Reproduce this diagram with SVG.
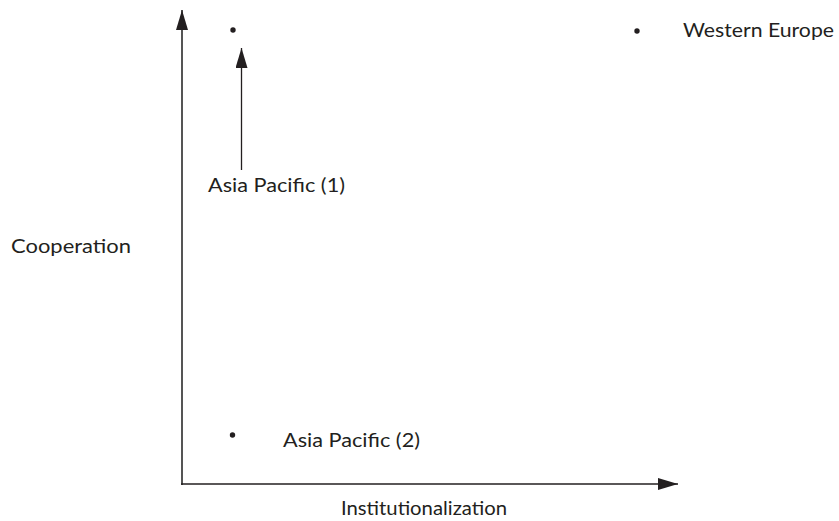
<svg xmlns="http://www.w3.org/2000/svg" width="839" height="521" viewBox="0 0 839 521">
<style>
text{font-family:"Lato","Open Sans","Liberation Sans",sans-serif;font-size:19.5px;fill:#231f20}
.dot{fill:#231f20}
</style>
<defs>
<marker id="ahBig" viewBox="0 0 20 12" refX="20" refY="6" markerWidth="20" markerHeight="12" markerUnits="userSpaceOnUse" orient="auto">
<path d="M0,0 L20,6 L0,12 Z" fill="#231f20"/>
</marker>
</defs>
<rect width="839" height="521" fill="#fff"/>
<g id="connectors">
<line x1="182" y1="485" x2="182" y2="10" stroke="#555" stroke-width="2" marker-end="url(#ahBig)"/>
<line x1="181" y1="484" x2="678" y2="484" stroke="#231f20" stroke-width="1.3" marker-end="url(#ahBig)"/>
<line x1="241.5" y1="170" x2="241.5" y2="48" stroke="#231f20" stroke-width="1.3" marker-end="url(#ahBig)"/>
</g>
<g id="node-top-dot"><circle class="dot" cx="233" cy="30" r="2.7"/></g>
<g id="node-western-europe"><circle class="dot" cx="637" cy="31" r="2.7"/><text x="683" y="37" textLength="151" lengthAdjust="spacingAndGlyphs">Western Europe</text></g>
<g id="node-asia-pacific-1"><text x="208" y="192" textLength="137" lengthAdjust="spacingAndGlyphs">Asia Pacific (1)</text></g>
<g id="node-cooperation"><text x="11" y="252.5" textLength="120" lengthAdjust="spacingAndGlyphs">Cooperation</text></g>
<g id="node-asia-pacific-2"><circle class="dot" cx="232.5" cy="435" r="2.7"/><text x="283" y="447" textLength="137" lengthAdjust="spacingAndGlyphs">Asia Pacific (2)</text></g>
<g id="node-institutionalization"><text x="341" y="515" textLength="166" lengthAdjust="spacingAndGlyphs">Institutionalization</text></g>
</svg>
